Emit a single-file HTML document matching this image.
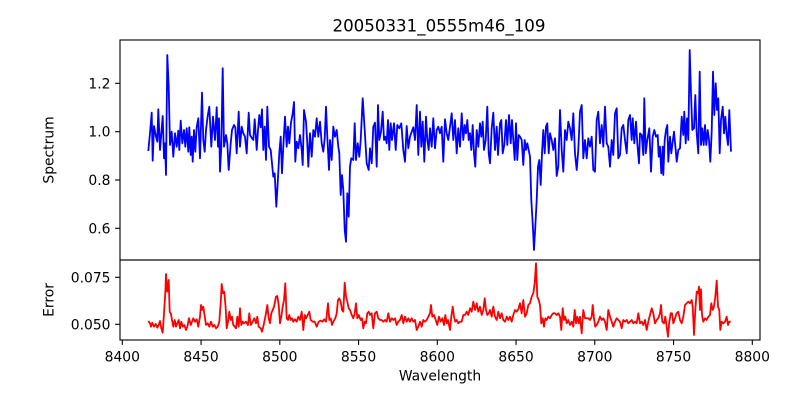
<!DOCTYPE html>
<html><head><meta charset="utf-8"><style>
html,body{margin:0;padding:0;background:#fff;}
svg{display:block;}
text{font-family:"DejaVu Sans","Liberation Sans",sans-serif;fill:#000;}
.t{font-size:13.89px;}
</style></head><body>
<svg width="800" height="400" viewBox="0 0 800 400" xmlns="http://www.w3.org/2000/svg">
<rect width="800" height="400" fill="#fff"/>
<text x="439" y="31.5" text-anchor="middle" style="font-size:16.67px">20050331_0555m46_109</text>

<!-- spectrum -->
<polyline fill="none" stroke="#0000ff" stroke-width="1.8" stroke-linejoin="round" points="148.3,151 150,133.3 151.7,112.7 152.7,160.7 154,126 156,136.7 157.3,141.7 158.3,109.3 160,150 162.7,116 164,158.3 165,143.3 166,175 167.3,55 168.7,86.7 170,145 171.7,131.7 173.3,156.7 175,133.3 176.7,146.7 178.3,130.7 179.3,150 180.7,120.7 182.3,143.3 184,130 185.3,146.7 186.7,128.3 188.3,151.7 189.3,127.3 190.7,155 191.7,136.7 192.7,161.7 194,130 195.3,151.7 196.7,127.3 198.3,118.3 200,158.3 202,92.7 203.3,140 204.7,151.7 206,130 207.7,116 209.3,106.7 211.3,146.7 213,116.7 215,140 216.7,107.3 218,146.7 219,118.3 220,171.7 221.3,146.7 222.7,68.3 224,146.7 226,135 227.3,143.3 228.7,170 230.7,143.3 232,130 234,125 235.3,127.3 236.7,153.3 238.7,111.7 240,146.7 241.7,126.7 243.3,133.3 245,136.7 246.7,153.3 248.7,112.7 250,135 252,138.3 253.3,140 254.7,119.3 256.7,150 258,130 259.3,115 260.7,127.3 262,109.3 263.3,150 264.7,126.7 266,160 267.3,106.7 269,146.7 270.7,150 272,163.3 273.3,176.7 274.7,173.3 276.3,206.7 277.7,183.3 279.3,153.3 280.7,136.7 282,173.3 283.3,146.7 285,116.7 286.7,146.7 288,126.7 289.3,143.3 291,122.7 292.7,113.3 294,102 295.3,161.7 296.7,141.7 298.3,148.3 300,135 301.7,150 302.7,165 304,110 306,121.7 307.3,143.3 308.3,166.7 310,133.3 311.7,156.7 313.3,130 315,136.7 316.7,118.3 318.3,136.7 320,121.7 321.7,143.3 323.3,151.7 324.7,138.3 326,106.7 327.3,136.7 329,170 330,140 331.7,160 333.3,126.7 335,136.7 336.7,130 338.3,146.7 339.3,153.3 340.7,195 342,175 343.3,190 344.7,230 346,241.7 347.3,193.3 348.7,216.7 350,166.7 351.3,158.3 353.3,160 354.7,123.3 356,160 357.7,143.3 359.3,156.7 360.7,140 362.7,98.3 364.7,130 366.7,163.3 368.7,170 370,148.3 371.7,163.3 373.3,126.7 375,122.7 376.7,166.7 378,105 379.3,140 381,131.7 382.7,111.7 384,140 385.3,136.7 386.7,143.3 388,120 389.3,150 390.7,123.3 392,140 394,123.3 395.7,150 397.3,125 399.3,128.3 401.3,123.3 403.3,150 405,161.7 406.7,126 408.3,148.3 410,136.7 411.7,131.7 413.3,127.3 415,140 416.7,105 418.3,155 420,111.7 421.3,146.7 422.7,121.7 424.3,161.7 426,116.7 427.3,140 428.7,150 430,128.3 431.7,146.7 433.3,118.3 435,148.3 436.7,130 438.3,126.7 440,133.3 441.7,126.7 443.3,161.7 445,119.3 446.7,133.3 448.3,140 450,126.7 451.7,113.3 453.3,140 455,120 456.7,153.3 458.3,128.3 460,146.7 461.7,113.3 463.3,140 464.7,125 466,133.3 467.3,120 468.7,140 470,133.3 471.3,150 472.7,125 474,153.3 475.3,166.7 476.7,130 478.3,146.7 480,123.3 481.3,136.7 482.7,121.7 484,150 485.7,140 487.3,106.7 488.7,153.3 490,163.3 491.7,128.3 493.3,112.7 495,150 496.7,126.7 498,155 500,123.3 501.3,120 502.7,153.3 504.3,145 506,120 507.3,145 509,115 510.7,143.3 512,120 513.3,140 514.7,160 516,123.3 517.3,160 518.7,135 520,136.7 521.7,140 523.3,165 524.7,140 526,150 527.3,143.3 528.7,150 530,156.7 531.3,200 532.7,223.3 534,250 535.3,226.7 536.7,200 538,166.7 539.3,160 540.7,185 542,153.3 543.3,130 544.7,153.3 546,126.7 547.3,123.3 548.7,153.3 550,133.3 551.7,140 553.3,150 555,138.3 556.7,176 558.3,166.7 560,110 561.7,150 563.3,171.7 565,130 566.7,140 568.3,121.7 570,128.3 571.7,140 573.3,113.3 575,153.3 576.7,170 578.3,150 580,111.7 581.7,105 583.3,158.3 585,140 586.7,158.3 588.3,138.3 590,146.7 591.7,136.7 593.3,170 595,171.7 596.7,120 598.3,111.7 600,143.3 601.7,125 603.3,146.7 605,106.7 606.7,143.3 608.3,146.7 610,166.7 611.7,140 613.3,155 615,113.3 616.7,108.3 618.3,158.3 620,155 621.7,128.3 623.3,125 625,140 626.7,153.3 628.3,120 630,115 631.7,140 632.7,118.3 634.3,143.3 636,121.7 637.3,143.3 639,163.3 640,133.3 641.7,135 643.3,155 644.3,98.3 645.7,153.3 647.3,140 649.3,128.3 651,171.7 652.7,136.7 654.3,130 656,136.7 657.7,135 658.7,156.7 660,146.7 661.3,173.3 662.7,146.7 663.3,175 664.7,140 666,130 667.3,125 668.3,161.7 670,136.7 671.3,153.3 672.7,141.7 674,131.7 675.7,150 676.7,161.7 678.3,150 680,148.3 681.7,116.7 683.3,135 684.3,111.7 685.7,143.3 687,118.3 688.3,140 689.7,50 691,93.3 692.3,130 694,128.3 695.3,95 696.7,133.3 698.3,153.3 699.7,71.7 701,145 702.3,128.3 703.7,145 705,125 706.3,145 707.7,130 709,140 710.3,161.7 711.7,131.7 713,71.7 714.3,115 715.7,83.3 717,110 718.3,98.3 719.7,153.3 721,120 722.7,106.7 724,133.3 725.3,116.7 726.7,135 728,145 729.3,110 731,151.7"/>

<!-- error -->
<polyline fill="none" stroke="#ff0000" stroke-width="1.8" stroke-linejoin="round" points="148.3,321 150,323.3 151,326.7 152.3,322.7 154,326.7 155.7,324 157.3,327.7 158.7,325 160,321 161.3,328.3 162.7,332.7 164,313.3 165.3,293.3 166,274 167.3,291.7 168.7,280 169.7,311.7 171,314 172,320 173.3,326.7 174.7,320 176,326.7 177.3,323.3 178.7,320 180,328.3 181.3,321.7 182.7,326.7 184.3,325 186,330 187.3,326.7 189,318.3 190.7,325 192,321.7 193.3,318.3 195,321.7 196.7,319.3 198.3,326.7 200,316.7 201,305 202.3,310 203.3,306.7 204.7,316 206,325 207.7,323.3 209.3,326.7 211,321.7 212.7,326.7 214.3,325 216,328.3 217.7,326.7 219.3,321.7 220.7,303.3 221.7,284 223,293.3 224.3,291.7 225.7,308.3 226.7,328.3 228,321.7 229.3,311.7 230.7,320 232,316.7 233.3,325 234.7,326.7 236,328.3 237.3,316.7 238.7,326.7 240,308.3 241.3,325 242.7,321.7 244,323.3 246,321.7 248,325 249.3,313.3 250.7,325 252.7,321.7 254.3,318.3 256,323.3 257.3,316.7 258.7,326.7 260.7,328.3 262,331.7 263.3,326.7 264.7,320 266,313.3 267.3,305 268.7,318.3 270,323.3 271.3,313.3 272.7,310 274,306.7 276,296.7 277.3,296 278.7,305 280,323.3 281.3,316.7 282.7,306.7 284,300 285.3,283.3 286.7,318.3 288,320 289.3,315 290.7,320 292,318.3 293.3,321.7 295,319.3 296.7,321.7 298.3,316.7 300,320 301.7,311.7 303.3,330 304.7,315 306,318.3 307.7,315 309.3,311.7 310.7,320 312.7,321.7 314.7,321.7 316.7,326.7 318.7,321.7 320.7,320.7 322.7,321.7 324,319.3 326,321.7 328,303.3 329.3,320 330.7,318.3 332,325 333.3,321.7 335.3,318.3 336.7,313.3 338,300 339.3,298.3 340.7,301.7 342,310 343.3,311.7 344.7,282.7 346,296.7 347.3,301.7 348.7,308.3 350,310 351.7,315 353.3,318.3 354.7,313.3 356,303.3 357.3,318.3 358.7,315 360.7,320 362,318.3 363.3,328.3 364.7,321.7 366,323.3 367.3,313.3 368.7,311.7 370,315 371.7,313.3 373.3,328.3 375,313.3 376.7,311.7 378.3,318.3 380,320 381.7,320 383.3,321.7 385,320 386.7,321.7 388.3,313.3 390,321.7 391.7,318.3 393.3,320 395,318.3 396.7,325 398.3,321.7 400,320 401.7,315 403.3,323.3 405,316.7 406.7,321.7 408.3,318.3 410,321.7 411.7,318.3 413.3,321.7 415,320 416.7,330 418.3,326.7 420,321.7 421.7,326.7 423.3,320 425,321.7 426.7,320 428.3,316.7 430,313.3 431,305 432.3,316.7 434,315 435.7,320 437.3,325 439,316.7 440.7,321.7 442.3,318.3 444,325 445.3,315 446.7,323.3 448,320 450,330 451.3,316.7 452.7,306.7 454,316.7 455.3,321.7 456.7,320 458.3,323.3 460,321.7 461.7,321.7 463.3,315 465,315 466.7,311.7 468.3,315 470,308.3 471.7,311.7 473.3,301.7 475,310 476.7,303.3 478.3,311.7 480,306.7 481.7,315 483.3,310 484.7,298.3 486,310 487.3,315 488.7,313.3 490,310 491.7,316.7 493.3,306.7 495,316.7 496.7,320 498.3,311.7 500,318.3 501.7,313.3 503.3,320 505,321.7 506.7,316.7 508.3,320 510,316.7 511.7,321.7 513.3,315 515,310 516.7,311.7 518.3,309.3 520,303.3 521.7,313.3 523.3,300 525,316.7 526.7,313.3 528.3,305 530,303.3 531.7,296.7 533.3,293.3 534.7,283.3 536,263.3 537.3,296.7 538.7,300 540,305 541.3,323.3 542.7,318.3 544,326.7 545.3,318.3 546.7,320 548.3,316.7 550,318.3 551.7,315 553.3,313.3 555,313.3 556.7,315 558.3,313.3 560,316.7 561.3,330 562.7,308.3 564,320 565.3,316.7 566.7,323.3 568.3,320 570,325 571.7,321.7 573.3,326.7 574.7,310 576,323.3 577.3,316.7 578.7,323.3 580,316.7 581.7,333.3 583.3,310 585,318.3 586.7,318.3 588.3,318.3 590,320 591.7,316.7 592.7,305 594,318.3 595.3,326.7 596.7,325 598.3,321.7 600,316.7 601.7,320 603.3,318.3 605,321.7 606.7,330 608.3,310 610,316.7 611.7,321.7 613.3,326.7 615,321.7 616.7,318.3 618.3,320 620,321.7 621.7,328.3 623.3,320 625,321.7 626.7,320 628.3,323.3 630,321.7 631.7,320 633.3,323.3 635,321.7 636.7,323.3 638.3,313.3 640,323.3 641.7,321.7 643.3,325 645,320 646.7,330 648.3,321.7 650,315 651.7,308.3 653.3,313.3 655,323.3 656.7,320 658.3,318.3 660,313.3 661,305 662.3,321.7 664,323.3 665.3,316.7 666.7,326.7 668,336.7 669.3,321.7 670.7,313.3 672,313.3 673.3,323.3 675,318.3 676.7,313.3 678.3,311.7 680,320 681.7,323.3 683.3,316.7 685,305 686.7,303.3 688.3,301.7 690,303.3 691.7,300 692.7,306.7 694,335 695.3,310 696.7,291.7 698,293.3 699,286.7 700,310 701,289.3 702,315 703.3,321.7 705,318.3 706.7,320 708.3,316.7 710,315 711.3,303.3 712.7,310 714,306.7 715.3,296.7 716.7,280.7 718,306.7 719.3,310 720.3,330 721.7,321.7 723.3,323.3 725,321.7 726.7,316.7 728,325 729.3,321.7 730.7,321.7"/>

<!-- axes frames -->
<rect x="120" y="40" width="640" height="220" fill="none" stroke="#000" stroke-width="1.1"/>
<rect x="120" y="260" width="640" height="80" fill="none" stroke="#000" stroke-width="1.1"/>

<g stroke="#000" stroke-width="1.1">
<line x1="115.1" y1="83.3" x2="120" y2="83.3"/>
<line x1="115.1" y1="131.7" x2="120" y2="131.7"/>
<line x1="115.1" y1="180" x2="120" y2="180"/>
<line x1="115.1" y1="228.3" x2="120" y2="228.3"/>
<line x1="115.1" y1="277.3" x2="120" y2="277.3"/>
<line x1="115.1" y1="324.3" x2="120" y2="324.3"/>
<line x1="122.3" y1="340" x2="122.3" y2="344.9"/>
<line x1="201.05" y1="340" x2="201.05" y2="344.9"/>
<line x1="279.8" y1="340" x2="279.8" y2="344.9"/>
<line x1="358.55" y1="340" x2="358.55" y2="344.9"/>
<line x1="437.3" y1="340" x2="437.3" y2="344.9"/>
<line x1="516.05" y1="340" x2="516.05" y2="344.9"/>
<line x1="594.8" y1="340" x2="594.8" y2="344.9"/>
<line x1="673.55" y1="340" x2="673.55" y2="344.9"/>
<line x1="752.3" y1="340" x2="752.3" y2="344.9"/>
</g>

<g class="t" text-anchor="end">
<text class="t" x="110.5" y="88.3">1.2</text>
<text class="t" x="110.5" y="136.7">1.0</text>
<text class="t" x="110.5" y="185">0.8</text>
<text class="t" x="110.5" y="233.3">0.6</text>
<text class="t" x="110.5" y="282.3">0.075</text>
<text class="t" x="110.5" y="329.3">0.050</text>
</g>

<g text-anchor="middle">
<text class="t" x="122.3" y="361.5">8400</text>
<text class="t" x="201.05" y="361.5">8450</text>
<text class="t" x="279.8" y="361.5">8500</text>
<text class="t" x="358.55" y="361.5">8550</text>
<text class="t" x="437.3" y="361.5">8600</text>
<text class="t" x="516.05" y="361.5">8650</text>
<text class="t" x="594.8" y="361.5">8700</text>
<text class="t" x="673.55" y="361.5">8750</text>
<text class="t" x="752.3" y="361.5">8800</text>
<text class="t" x="440" y="380.3">Wavelength</text>
<text class="t" transform="translate(53.5,150) rotate(-90)">Spectrum</text>
<text class="t" transform="translate(53.5,300) rotate(-90)">Error</text>
</g>
</svg>
</body></html>
